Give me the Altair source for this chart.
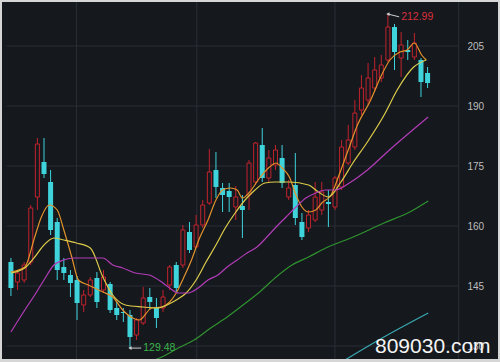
import altair as alt
import pandas as pd

# ---- candle data (index 0..63) ----
opens = [151.0, 146.0, 146.5, 151.0, 167.25, 176.0, 171.0, 161.0, 149.75, 147.75,
         146.5, 140.25, 142.75, 147.0, 144.0, 145.5, 139.5, 138.5, 137.75, 132.75,
         135.75, 142.25, 139.75, 139.5, 145.25, 150.25, 150.25, 158.5, 154.75, 160.25,
         165.75, 174.0, 169.5, 168.75, 164.75, 165.0, 167.75, 171.0, 180.25, 172.0,
         175.25, 177.0, 167.25, 170.25, 161.0, 159.5, 161.5, 164.0, 166.0, 164.75,
         169.75, 175.75, 179.75, 189.0, 191.5, 194.5, 197.0, 201.5, 209.75, 202.0,
         204.0, 202.25, 201.5, 198.25]
closes = [144.5, 148.25, 150.25, 164.5, 180.5, 173.0, 159.0, 149.0, 148.25, 145.75,
          140.75, 142.75, 146.5, 141.0, 147.25, 139.0, 137.75, 138.25, 132.25, 136.5,
          142.0, 141.0, 137.0, 142.25, 149.75, 144.5, 159.0, 154.0, 160.25, 165.25,
          173.5, 169.75, 167.75, 167.25, 167.25, 164.0, 175.75, 180.75, 172.0, 177.0,
          179.0, 170.75, 169.5, 162.0, 157.25, 162.75, 167.25, 168.5, 165.5, 172.0,
          179.75, 181.5, 188.25, 194.5, 197.0, 199.0, 200.25, 209.75, 203.5, 205.25,
          203.5, 205.75, 196.0, 195.75]
highs = [152.0, 149.0, 151.0, 165.25, 182.0, 182.0, 174.0, 162.0, 152.0, 149.0,
         147.5, 144.0, 147.25, 148.5, 149.0, 146.0, 141.0, 139.5, 139.0, 137.0,
         144.75, 144.5, 142.0, 144.0, 150.25, 151.0, 160.25, 161.0, 162.75, 166.5,
         179.25, 178.5, 170.75, 170.75, 170.0, 167.75, 176.5, 181.0, 184.5, 179.0,
         180.25, 180.25, 171.5, 178.25, 163.25, 164.0, 171.0, 171.0, 169.0, 172.5,
         181.5, 185.25, 191.5, 197.75, 200.75, 202.25, 202.75, 212.99, 210.5, 208.5,
         206.5, 208.25, 202.0, 199.75]
lows = [142.5, 144.0, 145.75, 150.25, 164.0, 172.0, 157.75, 146.5, 146.5, 142.25,
        136.5, 138.5, 142.25, 139.5, 143.25, 138.25, 136.5, 136.0, 129.48, 131.5,
        135.25, 139.0, 134.5, 138.5, 144.0, 143.25, 149.5, 153.25, 154.5, 159.5,
        165.25, 167.0, 163.5, 163.5, 161.5, 157.0, 164.0, 170.25, 171.0, 171.0,
        174.0, 169.5, 166.5, 160.25, 156.5, 158.5, 161.0, 162.75, 159.75, 164.0,
        169.0, 175.25, 179.0, 187.75, 190.25, 193.5, 196.0, 201.0, 199.0, 197.25,
        201.5, 201.5, 192.25, 194.5]

# ---- moving averages (index, value) ----
ma5_idx = [0, 2.1, 3.6, 4.6, 5.8, 7.0, 8.0, 9.2, 10.2, 11.7, 13.9, 15.4, 16.9, 18.4, 19.4,
           21.3, 22.8, 24.0, 25.0, 26.1, 27.3, 28.4, 29.8, 31.0, 32.0, 33.2, 34.2, 35.0,
           36.1, 37.6, 39.1, 40.1, 41.0, 42.1, 43.1, 44.0, 45.0, 46.1, 47.0, 48.4, 49.5,
           51.0, 52.4, 54.4, 55.9, 57.3, 58.8, 59.9, 61.0, 62.1, 62.8]
ma5_val = [148.5, 149.75, 157.25, 162.25, 165.25, 164.0, 159.0, 152.25, 146.5, 145.25,
           143.5, 142.25, 139.0, 137.0, 136.5, 139.5, 139.75, 141.0, 143.25, 147.0,
           151.5, 156.5, 161.5, 166.5, 169.0, 169.5, 169.0, 167.0, 168.5, 172.0,
           174.75, 175.75, 174.5, 172.25, 167.75, 164.75, 163.5, 164.0, 165.75, 167.75,
           172.25, 179.0, 185.25, 191.5, 197.25, 201.5, 203.5, 204.0, 205.75, 202.75, 201.5]
ma10_idx = [0, 2.1, 3.6, 5.0, 6.5, 8.0, 9.9, 12.0, 13.9, 15.4, 17.3, 19.9, 22.1, 23.6,
            25.0, 26.5, 28.0, 29.5, 31.0, 32.4, 33.9, 35.4, 36.9, 38.4, 39.9, 42.1, 45.0,
            46.5, 48.0, 49.9, 51.7, 53.9, 56.6, 58.4, 60.9, 62.8]
ma10_val = [148.25, 149.5, 152.25, 155.25, 157.0, 156.5, 155.75, 154.5, 147.25, 142.75,
            140.25, 139.75, 139.5, 140.25, 141.5, 143.25, 146.5, 151.0, 155.25, 159.5,
            163.25, 166.5, 169.0, 170.75, 171.0, 171.0, 170.25, 168.5, 167.25, 171.0,
            175.75, 181.0, 188.25, 194.0, 199.75, 201.5]
ma20_idx = [0, 2.1, 3.6, 5.0, 6.5, 8.0, 9.5, 13.9, 15.4, 16.9, 18.8, 20.9, 22.8, 24.0,
            25.3, 26.8, 28.3, 29.8, 31.3, 32.7, 34.2, 35.7, 37.2, 38.7, 40.1, 41.6, 43.1,
            44.6, 46.1, 47.6, 49.0, 51.4, 53.9, 56.9, 63.1]
ma20_val = [133.5, 139.0, 142.75, 146.5, 150.25, 151.5, 152.0, 152.0, 150.25, 149.5,
            148.25, 147.75, 146.0, 144.5, 143.25, 143.25, 144.5, 146.5, 147.75, 149.75,
            151.5, 153.25, 154.75, 157.25, 159.75, 162.25, 164.75, 167.0, 168.25, 169.0,
            169.0, 171.0, 174.0, 178.5, 187.25]
ma60_idx = [21.3, 22.8, 25.3, 27.7, 30.2, 32.7, 35.1, 37.6, 40.1, 42.5, 45.0, 47.6,
            51.4, 56.4, 60.3, 63.1]
ma60_val = [126.25, 127.25, 129.5, 131.5, 134.5, 137.25, 140.25, 143.5, 147.25, 150.25,
            152.25, 154.5, 157.0, 160.75, 163.5, 166.25]
ma120_idx = [50.5, 56.4, 63.1]
ma120_val = [126.5, 132.25, 138.25]

y_ticks = [130, 145, 160, 175, 190, 205]
month_lines = [9.9, 28.1, 49.0]
plot_right = 67.7

high_label = "212.99"
low_label = "129.48"
watermark = "809030.com"

BG = "#15181d"
GRID = "#2b2f36"
RED = "#c0232d"
CYAN = "#3fd3dc"

n = len(opens)
df = pd.DataFrame({"i": list(range(n)), "open": opens, "close": closes,
                   "high": highs, "low": lows})
df["dir"] = ["up" if c >= o else "down" for o, c in zip(opens, closes)]

xs = alt.Scale(domain=[-0.593, 72.89], nice=False, zero=False)
ys = alt.Scale(domain=[126.75, 216.0], nice=False, zero=False)

yaxis = alt.Axis(orient="right", values=y_ticks, offset=-35, grid=False, domain=False,
                 ticks=False, labelColor="#bdbdbd", labelFontSize=10, labelPadding=4,
                 labelFont="Liberation Sans", title=None)


def X(field):
    return alt.X(field, scale=xs, axis=None)


def Y(field):
    return alt.Y(field, scale=ys, axis=yaxis)


grid_df = pd.DataFrame({"v": y_ticks, "x0": [xs.domain[0]] * len(y_ticks),
                        "x1": [plot_right] * len(y_ticks)})
hgrid = alt.Chart(grid_df).mark_rule(color=GRID, strokeWidth=1).encode(
    x=X("x0:Q"), x2="x1:Q", y=Y("v:Q"))
vgrid = alt.Chart(pd.DataFrame({"m": month_lines + [plot_right]})).mark_rule(
    color=GRID, strokeWidth=1).encode(x=X("m:Q"), y=alt.value(0), y2=alt.value(357))

base = alt.Chart(df)
dir_color = alt.Color("dir:N", scale=alt.Scale(domain=["up", "down"], range=[RED, CYAN]),
                      legend=None)
wicks = base.mark_rule(strokeWidth=1).encode(
    x=X("i:Q"), y=Y("low:Q"), y2="high:Q", color=dir_color)
up_bodies = base.transform_filter("datum.dir == 'up'").mark_bar(
    size=4, fill=BG, stroke=RED, strokeWidth=1).encode(
    x=X("i:Q"), y=Y("open:Q"), y2="close:Q")
down_bodies = base.transform_filter("datum.dir == 'down'").mark_bar(
    size=5, color=CYAN).encode(x=X("i:Q"), y=Y("open:Q"), y2="close:Q")

rows = []
for name, ix, vals in [("MA5", ma5_idx, ma5_val), ("MA10", ma10_idx, ma10_val),
                       ("MA20", ma20_idx, ma20_val), ("MA60", ma60_idx, ma60_val),
                       ("MA120", ma120_idx, ma120_val)]:
    for a, b in zip(ix, vals):
        rows.append({"s": name, "i": a, "v": b})
ma_df = pd.DataFrame(rows)
lines = alt.Chart(ma_df).mark_line(strokeWidth=1.2, interpolate="monotone", clip=True).encode(
    x=X("i:Q"), y=Y("v:Q"),
    color=alt.Color("s:N", scale=alt.Scale(
        domain=["MA5", "MA10", "MA20", "MA60", "MA120"],
        range=["#e3922c", "#dccb4a", "#b23cb8", "#2f922f", "#3aa9b2"]), legend=None),
    detail="s:N")

# annotations
hi_i = highs.index(max(highs))
lo_i = lows.index(min(lows))
ann_df = pd.DataFrame({
    "x0": [hi_i, lo_i], "y0": [max(highs), min(lows)],
    "x1": [hi_i + 1.7, lo_i + 1.7], "y1": [max(highs) - 0.7, min(lows)],
    "t": [high_label, low_label], "c": ["hi", "lo"]})
ann_rule = alt.Chart(ann_df).mark_rule(color="#cfcfcf", strokeWidth=1).encode(
    x=X("x0:Q"), x2="x1:Q", y=Y("y0:Q"), y2="y1:Q")
ann_head = alt.Chart(ann_df).mark_point(shape="triangle-left", filled=True, size=14,
                                        color="#cfcfcf", opacity=1).encode(
    x=X("x0:Q"), y=Y("y0:Q"))
ann_text = alt.Chart(ann_df).mark_text(align="left", baseline="middle", dx=2, fontSize=10.5,
                                       font="Liberation Sans").encode(
    x=X("x1:Q"), y=Y("y1:Q"), text="t:N",
    color=alt.Color("c:N", scale=alt.Scale(domain=["hi", "lo"], range=["#d8303c", "#3cb44b"]),
                    legend=None))

wm = alt.Chart(pd.DataFrame({"t": [watermark]})).mark_text(
    align="left", baseline="alphabetic", fontSize=21, font="Liberation Sans",
    color="#f4f4f4").encode(text="t:N", x=alt.value(373), y=alt.value(351))

chart = alt.layer(hgrid, vgrid, wicks, up_bodies, down_bodies, lines,
                  ann_rule, ann_head, ann_text, wm).resolve_scale(color="independent").properties(
    width=496, height=357, background="#d6d6d6",
    padding={"left": 2, "top": 2, "right": 2, "bottom": 3},
    autosize=alt.AutoSizeParams(type="none")
).configure_view(fill=BG, stroke=None)

chart.save("out.html", embed_options={"renderer": "svg", "actions": False})
